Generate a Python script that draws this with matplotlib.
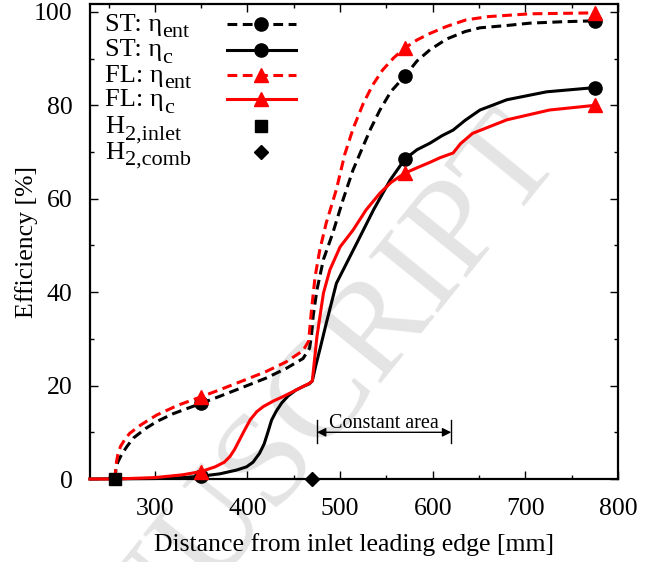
import matplotlib
matplotlib.use('Agg')
import matplotlib.pyplot as plt
from matplotlib.ticker import MultipleLocator

plt.rcParams['font.family'] = ['Liberation Serif', 'DejaVu Serif']
plt.rcParams['mathtext.fontset'] = 'stix'
plt.rcParams['font.size'] = 18.5

# ST: entrainment efficiency
st_ent_x = [257, 258, 260, 264, 270, 277, 290, 302, 320, 350, 370, 392, 420, 442, 460, 467, 469, 471,
            475, 482, 492, 503, 514, 523, 533, 543, 555, 570, 583, 597, 615, 635, 651, 680, 705, 740, 775]
st_ent_y = [0, 2.0, 3.6, 5.2, 7.0, 8.8, 10.8, 12.3, 14.0, 16.2, 17.7, 19.4, 21.6, 23.7, 25.8, 28.0, 30.5, 35.0,
            40.5, 47.0, 52.6, 59.7, 66.2, 70.4, 75.0, 79.0, 83.0, 86.3, 89.5, 91.9, 94.2, 95.8, 96.6, 97.1, 97.6, 97.9, 98.1]

# ST: combustion efficiency
st_c_x = [230, 300, 330, 350, 370, 388, 399, 406, 413, 418, 422, 426, 431, 437, 444, 452, 460, 467, 470,
          474, 478, 485, 496, 507, 518, 536, 554, 570, 583, 597, 610, 622, 635, 651, 680, 723, 775]
st_c_y = [0, 0.1, 0.3, 0.6, 1.1, 1.9, 2.6, 3.6, 5.5, 7.5, 10.0, 12.6, 14.5, 16.3, 17.8, 19.0, 19.8, 20.4, 21.0,
          24.5, 27.6, 33.3, 41.9, 46.2, 50.5, 57.6, 64.0, 68.5, 70.5, 71.9, 73.5, 74.7, 76.8, 79.0, 81.2, 82.9, 83.8]

# FL: entrainment efficiency
fl_ent_x = [257, 258, 260, 263, 268, 273, 285, 302, 325, 350, 370, 392, 420, 442, 460, 466, 469, 473,
            478, 485, 496, 505, 514, 525, 535, 546, 558, 570, 583, 597, 615, 636, 660, 705, 740, 775]
fl_ent_y = [0, 3.0, 5.2, 7.0, 8.6, 9.8, 11.6, 13.7, 15.8, 17.6, 19.1, 20.8, 23.0, 25.1, 27.5, 29.5, 36.0, 43.3,
            49.0, 54.8, 62.0, 69.5, 75.0, 80.4, 84.3, 87.6, 90.2, 92.3, 94.0, 95.4, 96.9, 98.3, 99.0, 99.6, 99.7, 99.8]

# FL: combustion efficiency
fl_c_x = [230, 257, 300, 330, 350, 365, 375, 381, 386, 392, 397, 403, 410, 417, 428, 438, 450, 460, 467, 470,
          475, 482, 489, 500, 514, 528, 543, 555, 570, 585, 597, 608, 622, 630, 643, 680, 726, 775]
fl_c_y = [0, 0, 0.3, 0.9, 1.6, 2.6, 3.6, 4.8, 6.3, 8.6, 10.5, 12.7, 14.4, 15.5, 16.7, 17.6, 18.8, 19.8, 20.5, 21.0,
          30.5, 39.8, 44.8, 49.7, 53.3, 57.6, 61.2, 63.5, 65.5, 66.8, 67.8, 68.8, 69.8, 71.8, 74.0, 76.9, 79.0, 80.0]

# hydrogen injection stations
h2_inlet_x, h2_inlet_y = [257], [0]
h2_comb_x, h2_comb_y = [470], [0]

mark_x = [350, 570, 775]
const_area = (475, 620)

fig = plt.figure(figsize=(6.53, 5.62), dpi=100)
ax = fig.add_axes([90/653, 1 - 479/562, 528/653, 475/562])
ax.set_facecolor('none')

fig.text(0.40, 0.155, 'MANUSCRIPT', rotation=51, fontsize=98, color='#e4e4e4',
         ha='center', va='center', rotation_mode='anchor', zorder=-1)

lw = 2.2
dash = (3.2, 1.8)
series = [
    (st_ent_x, st_ent_y, 'black', 'o', dash, ('ST: η', 'ent')),
    (st_c_x, st_c_y, 'black', 'o', None, ('ST: η', 'c')),
    (fl_ent_x, fl_ent_y, 'red', '^', dash, ('FL: η', 'ent')),
    (fl_c_x, fl_c_y, 'red', '^', None, ('FL: η', 'c')),
]
for x, y, c, m, d, lab in series:
    every = [x.index(v) for v in mark_x]
    line, = ax.plot(x, y, color=c, lw=lw, marker=m, ms=9.5, markevery=every, clip_on=False, zorder=3)
    if d:
        line.set_dashes(d)
ax.plot(h2_inlet_x, h2_inlet_y, 's', color='black', ms=9, clip_on=False, zorder=4)
ax.plot(h2_comb_x, h2_comb_y, 'D', color='black', ms=7, clip_on=False, zorder=4)

# legend drawn by hand: text (with large subscript) on the left, sample on the right
rows = [0.958, 0.904, 0.851, 0.799, 0.743, 0.689]
labels = [s[5] for s in series] + [('H', '2,inlet'), ('H', '2,comb')]
main_texts = []
for i, r in enumerate(rows):
    t = ax.text(0.028, r - 0.0145, labels[i][0], transform=ax.transAxes,
                va='baseline', ha='left', fontsize=19)
    main_texts.append(t)
    if i < 4:
        _, _, c, m, d, _ = series[i]
        ln, = ax.plot([0.259, 0.390], [r, r], color=c, lw=lw, transform=ax.transAxes, clip_on=False)
        if d:
            ln.set_dashes(d)
        ax.plot([0.3245], [r], m, color=c, ms=9.5, transform=ax.transAxes, clip_on=False)
ax.plot([0.3245], [rows[4]], 's', color='black', ms=9, transform=ax.transAxes, clip_on=False)
ax.plot([0.3245], [rows[5]], 'D', color='black', ms=7, transform=ax.transAxes, clip_on=False)

fig.canvas.draw()
renderer = fig.canvas.get_renderer()
for t, (_, sub) in zip(main_texts, labels):
    bb = t.get_window_extent(renderer)
    x0, y0 = ax.transAxes.transform(t.get_position())
    ax.annotate(sub, xy=(bb.x1, y0), xycoords='figure pixels', xytext=(0.5, -4.5),
                textcoords='offset points', va='baseline', ha='left', fontsize=16)

# constant-area section marker
ax.annotate('', xy=(const_area[0], 10), xytext=(const_area[1], 10),
            arrowprops=dict(arrowstyle='<|-|>', color='black', lw=1, mutation_scale=13,
                            shrinkA=0, shrinkB=0))
for xv in const_area:
    ax.plot([xv, xv], [7.7, 12.6], color='black', lw=1)
ax.text(sum(const_area) / 2, 11.0, 'Constant area', ha='center', va='baseline', fontsize=14.5)

ax.set_xlim(230, 800)
ax.set_ylim(0, 101.7)
ax.xaxis.set_major_locator(MultipleLocator(100))
ax.xaxis.set_minor_locator(MultipleLocator(50))
ax.yaxis.set_major_locator(MultipleLocator(20))
ax.yaxis.set_minor_locator(MultipleLocator(10))
ax.tick_params(which='both', direction='in', top=True, right=True, width=1)
ax.tick_params(which='major', length=6)
ax.tick_params(axis='x', which='major', pad=14)
ax.tick_params(axis='y', which='major', pad=12.5)
ax.tick_params(which='minor', length=3)
for s in ax.spines.values():
    s.set_linewidth(1.6)

ax.set_xlabel('Distance from inlet leading edge [mm]', labelpad=9)
ax.set_ylabel('Efficiency [%]', labelpad=-3)

fig.savefig('out.png', dpi=100)
